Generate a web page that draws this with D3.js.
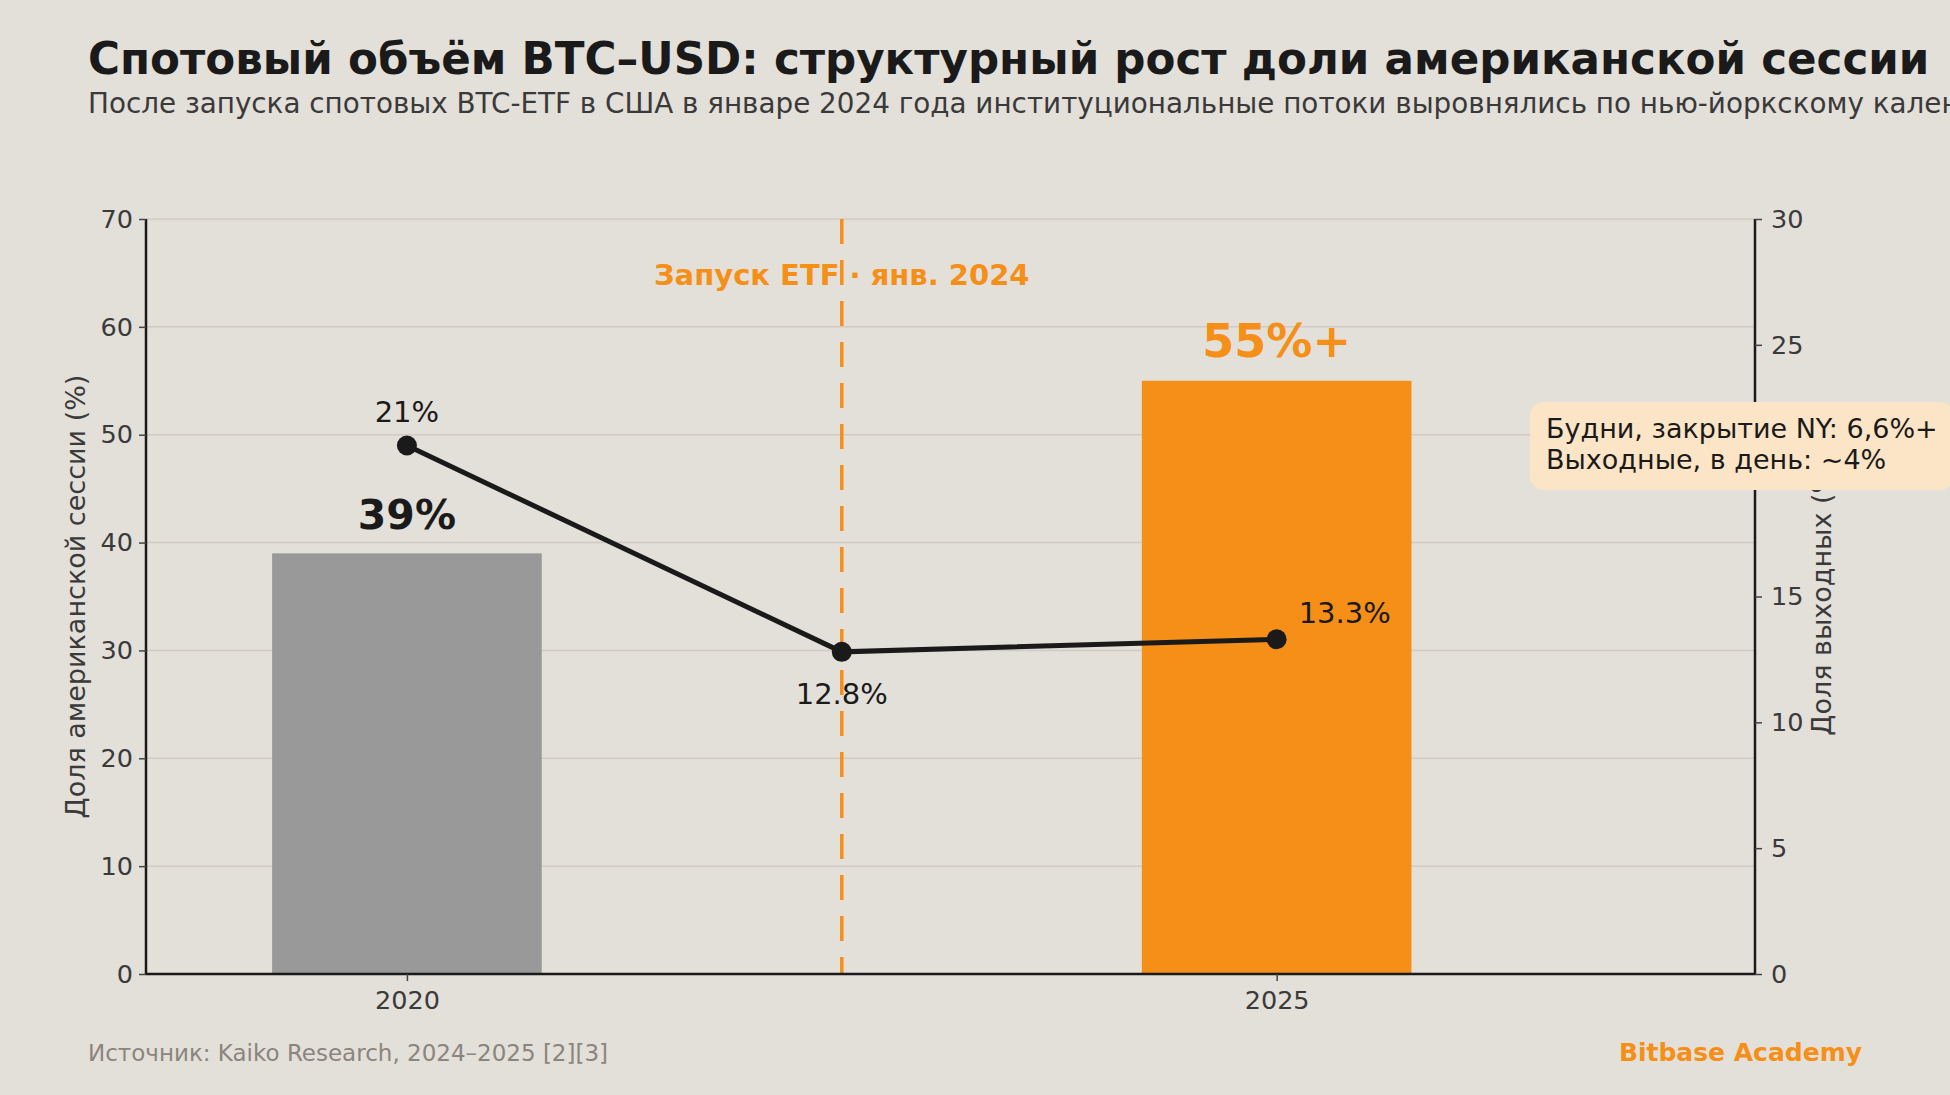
<!DOCTYPE html>
<html>
<head>
<meta charset="utf-8">
<script src="https://cdn.jsdelivr.net/npm/d3@7"></script>
<style>
  html, body { margin: 0; padding: 0; background: #e3dfd9; overflow: hidden; }
  svg text { font-family: "DejaVu Sans", sans-serif; }
</style>
</head>
<body>
<svg id="chart"></svg>
<script>
// data
var barYears = ["2020", "2025"];
var barPos = [0, 2];
var usShare = [39, 55];
var usLabels = ["39%", "55%+"];
var barColors = ["#999999", "#f58f17"];

var linePos = [0, 1, 2];
var weekendShare = [21, 12.8, 13.3];
var weekendLabels = ["21%", "12.8%", "13.3%"];

var leftTicks = [0, 10, 20, 30, 40, 50, 60, 70];
var rightTicks = [0, 5, 10, 15, 20, 25, 30];
var etfPos = 1;

var W = 1950, H = 1095;
var margin = { top: 219, right: 195, bottom: 121, left: 146 },
  width = W - margin.left - margin.right,
  height = H - margin.top - margin.bottom;

var root = d3.select("#chart").attr("width", W).attr("height", H);
root.append("rect").attr("width", W).attr("height", H).attr("fill", "#e3dfd9");

var svg = root.append("g")
  .attr("transform", "translate(" + margin.left + "," + margin.top + ")");

var x = d3.scaleLinear().domain([-0.6, 3.1]).range([0, width]);
var y = d3.scaleLinear().domain([0, 70]).range([height, 0]);
var y2 = d3.scaleLinear().domain([0, 30]).range([height, 0]);
var barW = x(0.31) - x(-0.31);

// grid
svg.selectAll(".grid").data(leftTicks.slice(1)).enter().append("line")
  .attr("x1", 0).attr("x2", width)
  .attr("y1", function (d) { return y(d); })
  .attr("y2", function (d) { return y(d); })
  .attr("stroke", "#d0cbc4").attr("stroke-width", 1.5);

// bars
svg.selectAll(".bar").data(usShare).enter().append("rect")
  .attr("x", function (d, i) { return x(barPos[i]) - barW / 2; })
  .attr("y", function (d) { return y(d); })
  .attr("width", barW)
  .attr("height", function (d) { return height - y(d); })
  .attr("fill", function (d, i) { return barColors[i]; });

// ETF launch line
svg.append("line")
  .attr("x1", x(etfPos)).attr("x2", x(etfPos))
  .attr("y1", 0).attr("y2", height)
  .attr("stroke", "#f58f17").attr("stroke-width", 3.5)
  .attr("stroke-dasharray", "25,16");

svg.append("text")
  .attr("x", x(etfPos)).attr("y", 285 - margin.top)
  .attr("text-anchor", "middle")
  .attr("font-size", 29).attr("font-weight", "bold")
  .attr("fill", "#f58f17")
  .text("Запуск ETF · янв. 2024");

// bar labels
svg.selectAll(".barlab").data(usShare).enter().append("text")
  .attr("x", function (d, i) { return x(barPos[i]); })
  .attr("y", function (d) { return y(d) - 24; })
  .attr("text-anchor", "middle")
  .attr("font-weight", "bold")
  .attr("font-size", function (d, i) { return i == 0 ? 41 : 46; })
  .attr("fill", function (d, i) { return i == 0 ? "#1a1a1a" : "#f58f17"; })
  .text(function (d, i) { return usLabels[i]; });

// weekend line
var pts = weekendShare.map(function (d, i) { return { x: linePos[i], v: d }; });
svg.append("path").datum(pts)
  .attr("fill", "none").attr("stroke", "#1a1a1a").attr("stroke-width", 5)
  .attr("d", d3.line()
    .x(function (d) { return x(d.x); })
    .y(function (d) { return y2(d.v); }));

svg.selectAll(".dot").data(pts).enter().append("circle")
  .attr("cx", function (d) { return x(d.x); })
  .attr("cy", function (d) { return y2(d.v); })
  .attr("r", 10).attr("fill", "#1a1a1a");

var labOff = [[0, -24], [0, 52], [22, -16]];
svg.selectAll(".ptlab").data(pts).enter().append("text")
  .attr("x", function (d, i) { return x(d.x) + labOff[i][0]; })
  .attr("y", function (d, i) { return y2(d.v) + labOff[i][1]; })
  .attr("text-anchor", function (d, i) { return i == 2 ? "start" : "middle"; })
  .attr("font-size", 29).attr("fill", "#1a1a1a")
  .text(function (d, i) { return weekendLabels[i]; });

// callout box
var box = root.append("g");
box.append("rect")
  .attr("x", 1530).attr("y", 402).attr("width", 424).attr("height", 88)
  .attr("rx", 14).attr("fill", "#fce5c6");
box.append("text").attr("x", 1546).attr("y", 438)
  .attr("font-size", 27).attr("fill", "#1a1a1a")
  .text("Будни, закрытие NY: 6,6%+");
box.append("text").attr("x", 1546).attr("y", 469)
  .attr("font-size", 27).attr("fill", "#1a1a1a")
  .text("Выходные, в день: ~4%");

// axes
var axL = svg.append("g")
  .call(d3.axisLeft(y).tickValues(leftTicks).tickSize(7).tickPadding(6));
var axR = svg.append("g").attr("transform", "translate(" + width + ",0)")
  .call(d3.axisRight(y2).tickValues(rightTicks).tickSize(7).tickPadding(9));
var axB = svg.append("g").attr("transform", "translate(0," + height + ")")
  .call(d3.axisBottom(x).tickValues(barPos)
    .tickFormat(function (d, i) { return barYears[i]; })
    .tickSize(7).tickPadding(10));

[axL, axR, axB].forEach(function (a) {
  a.select(".domain").attr("stroke", "#1a1a1a").attr("stroke-width", 2.5);
  a.selectAll(".tick line").attr("stroke", "#444").attr("stroke-width", 1.5);
  a.selectAll(".tick text").attr("font-size", 25.5).attr("fill", "#3a3a3a")
    .attr("font-family", "DejaVu Sans, sans-serif");
});
axB.select(".domain").attr("d", "M0,0H" + width);
axL.select(".domain").attr("d", "M0," + height + "V0");
axR.select(".domain").attr("d", "M0," + height + "V0");

// axis titles
svg.append("text")
  .attr("transform", "translate(" + (76 - margin.left + 9) + "," + height / 2 + ") rotate(-90)")
  .attr("text-anchor", "middle").attr("font-size", 27).attr("fill", "#3a3a3a")
  .text("Доля американской сессии (%)");
svg.append("text")
  .attr("transform", "translate(" + (1822 - margin.left + 9) + "," + height / 2 + ") rotate(-90)")
  .attr("text-anchor", "middle").attr("font-size", 27).attr("fill", "#3a3a3a")
  .text("Доля выходных (%)");

// titles
root.append("text").attr("x", 88).attr("y", 74)
  .attr("font-size", 43.6).attr("font-weight", "bold").attr("fill", "#1a1a1a")
  .text("Спотовый объём BTC–USD: структурный рост доли американской сессии");
root.append("text").attr("x", 88).attr("y", 113)
  .attr("font-size", 27.8).attr("fill", "#3a3a3a")
  .text("После запуска спотовых BTC-ETF в США в январе 2024 года институциональные потоки выровнялись по нью-йоркскому календарю");

// footer
root.append("text").attr("x", 88).attr("y", 1061)
  .attr("font-size", 23).attr("fill", "#8a857e")
  .text("Источник: Kaiko Research, 2024–2025 [2][3]");
root.append("text").attr("x", 1862).attr("y", 1061)
  .attr("text-anchor", "end")
  .attr("font-size", 25).attr("font-weight", "bold").attr("fill", "#f58f17")
  .text("Bitbase Academy");
</script>
</body>
</html>
